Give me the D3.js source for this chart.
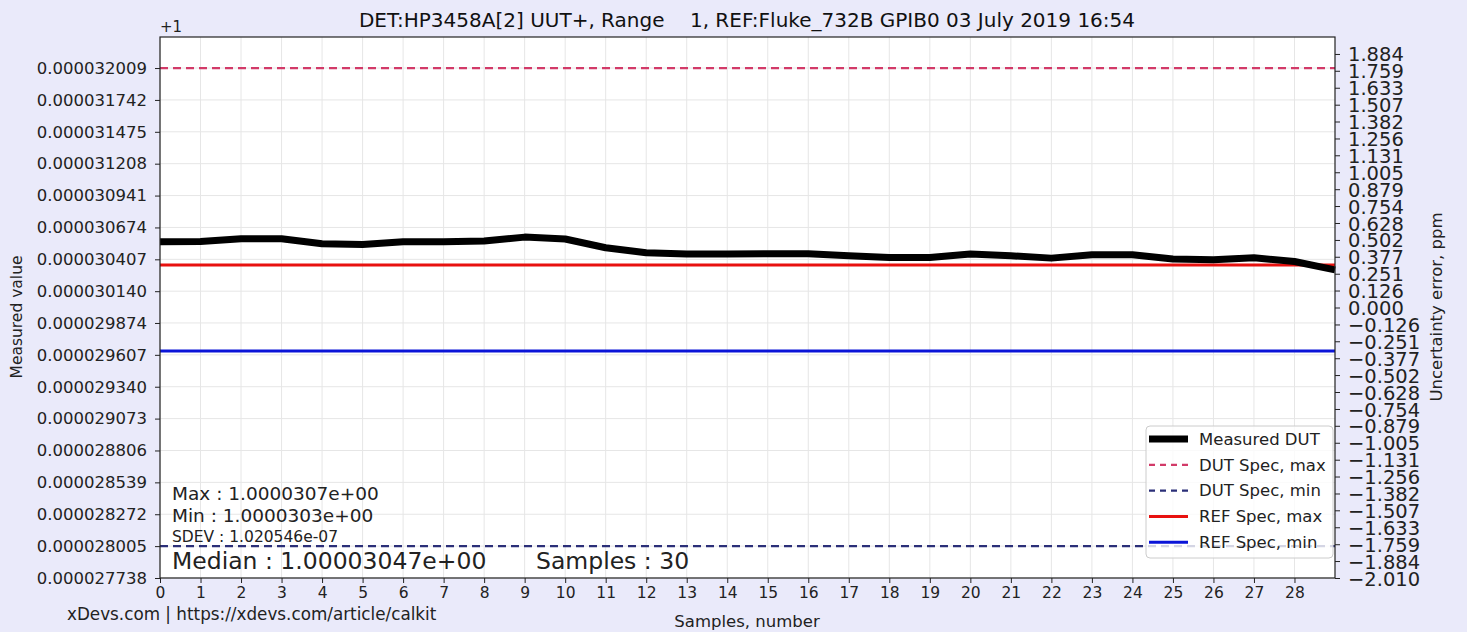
<!DOCTYPE html>
<html>
<head>
<meta charset="utf-8">
<script src="https://cdn.jsdelivr.net/npm/d3@7"></script>
<style>
  body { margin: 0; background: #eaeafa; }
  svg { font-family: "DejaVu Sans", sans-serif; }
  text { white-space: pre; }
</style>
</head>
<body>
<div id="chart"></div>
<script>
// Calibration run: measured value vs sample number (values in 1e-9 above +1)

const samples = d3.range(0, 30);
const measured = [30554, 30557, 30579, 30579, 30537, 30531, 30554, 30554, 30560, 30593,
                  30577, 30504, 30462, 30451, 30451, 30453, 30453, 30437, 30422, 30422,
                  30451, 30437, 30417, 30445, 30445, 30409, 30403, 30420, 30389, 30319];
const dutSpecMax = 32009;
const dutSpecMin = 28005;
const refSpecMax = 30360;
const refSpecMin = 29640;

const leftTicks = [27738, 28005, 28272, 28539, 28806, 29073, 29340, 29607, 29874,
                   30140, 30407, 30674, 30941, 31208, 31475, 31742, 32009];
const rightTicks = [-2.010, -1.884, -1.759, -1.633, -1.507, -1.382, -1.256, -1.131, -1.005,
                    -0.879, -0.754, -0.628, -0.502, -0.377, -0.251, -0.126, 0.000, 0.126,
                    0.251, 0.377, 0.502, 0.628, 0.754, 0.879, 1.005, 1.131, 1.256, 1.382,
                    1.507, 1.633, 1.759, 1.884];
const xTicks = d3.range(0, 29);

const width = 1467, height = 632;
const margin = {left: 160, right: 132, top: 37, bottom: 54};

const svg = d3.select("#chart").append("svg")
    .attr("width", width)
    .attr("height", height);

const x = d3.scaleLinear().domain([0, 29]).range([margin.left, width - margin.right]);
const y = d3.scaleLinear().domain([27738, 32269]).range([height - margin.bottom, margin.top]);
const yR = d3.scaleLinear().domain([-2.010, 2.010]).range([height - margin.bottom, margin.top]);

svg.append("rect")
    .attr("x", x(0)).attr("y", margin.top)
    .attr("width", x(29) - x(0)).attr("height", height - margin.bottom - margin.top)
    .attr("fill", "#fff");

// grid
svg.append("g").selectAll("line")
    .data(xTicks).enter().append("line")
    .attr("x1", d => x(d)).attr("x2", d => x(d))
    .attr("y1", margin.top).attr("y2", height - margin.bottom)
    .attr("stroke", "#e6e6e6").attr("stroke-width", 1);
svg.append("g").selectAll("line")
    .data(leftTicks).enter().append("line")
    .attr("x1", x(0)).attr("x2", x(29))
    .attr("y1", d => y(d)).attr("y2", d => y(d))
    .attr("stroke", "#e6e6e6").attr("stroke-width", 1);

const hline = (v, color, dash) => svg.append("line")
    .attr("x1", x(0)).attr("x2", x(29))
    .attr("y1", y(v)).attr("y2", y(v))
    .attr("stroke", color).attr("stroke-width", 2.2)
    .attr("stroke-dasharray", dash);

hline(dutSpecMax, "#d23a68", "8,5");
hline(dutSpecMin, "#2b2f78", "8,5");
hline(refSpecMax, "#e8110f", null).attr("stroke-width", 3);
hline(refSpecMin, "#0a14d8", null).attr("stroke-width", 3);

const line = d3.line()
    .x((d, i) => x(samples[i]))
    .y(d => y(d));

svg.append("path")
    .datum(measured)
    .attr("d", line)
    .attr("fill", "none")
    .attr("stroke", "#000")
    .attr("stroke-width", 7)
    .attr("stroke-linejoin", "round");

// axes
const xAxis = svg.append("g")
    .attr("transform", `translate(0,${height - margin.bottom})`)
    .call(d3.axisBottom(x).tickValues(xTicks).tickSize(5).tickPadding(4));
const yAxis = svg.append("g")
    .attr("transform", `translate(${margin.left},0)`)
    .call(d3.axisLeft(y).tickValues(leftTicks).tickSize(5).tickPadding(8)
        .tickFormat(d => "0.0000" + d));
const yAxisR = svg.append("g")
    .attr("transform", `translate(${width - margin.right},0)`)
    .call(d3.axisRight(yR).tickValues(rightTicks).tickSize(5).tickPadding(8)
        .tickFormat(d3.format(".3f")));

[xAxis, yAxis, yAxisR].forEach(g => {
    g.select(".domain").remove();
    g.selectAll("line").attr("stroke", "#222");
    g.selectAll("text").attr("fill", "#222").attr("font-family", "DejaVu Sans");
});
xAxis.selectAll("text").attr("font-size", 15.5);
yAxis.selectAll("text").attr("font-size", 16.5);
yAxisR.selectAll("text").attr("font-size", 19.5).attr("dy", "0.36em");

// frame
svg.append("rect")
    .attr("x", x(0)).attr("y", margin.top)
    .attr("width", x(29) - x(0)).attr("height", height - margin.bottom - margin.top)
    .attr("fill", "none").attr("stroke", "#222").attr("stroke-width", 1.2);

// texts
svg.append("text").attr("x", 160).attr("y", 32).attr("font-size", 15).attr("fill", "#222").text("+1");
svg.append("text").attr("x", 747).attr("y", 27).attr("text-anchor", "middle")
    .attr("font-size", 20).attr("fill", "#111")
    .text("DET:HP3458A[2] UUT+, Range    1, REF:Fluke_732B GPIB0 03 July 2019 16:54");
svg.append("text").attr("transform", "translate(22,317) rotate(-90)")
    .attr("text-anchor", "middle").attr("font-size", 15.5).attr("fill", "#222")
    .text("Measured value");
svg.append("text").attr("transform", "translate(1442,307) rotate(-90)")
    .attr("text-anchor", "middle").attr("font-size", 16.5).attr("fill", "#222")
    .text("Uncertainty error, ppm");
svg.append("text").attr("x", 747).attr("y", 627).attr("text-anchor", "middle")
    .attr("font-size", 16.5).attr("fill", "#222").text("Samples, number");
svg.append("text").attr("x", 67).attr("y", 620).attr("font-size", 16.8).attr("fill", "#222")
    .text("xDevs.com | https://xdevs.com/article/calkit");

const stats = [
    {t: "Max : 1.0000307e+00", x: 172, y: 500, s: 18.5},
    {t: "Min : 1.0000303e+00", x: 172, y: 522, s: 18.5},
    {t: "SDEV : 1.020546e-07", x: 172, y: 542, s: 15.5},
    {t: "Median : 1.00003047e+00", x: 172, y: 569, s: 23.5},
    {t: "Samples : 30", x: 536, y: 569, s: 23.5}
];
svg.append("g").selectAll("text")
    .data(stats).enter().append("text")
    .attr("x", d => d.x).attr("y", d => d.y)
    .attr("font-size", d => d.s).attr("fill", "#222")
    .text(d => d.t);

// legend
const legendItems = [
    {name: "Measured DUT", color: "#000", w: 7, dash: null},
    {name: "DUT Spec, max", color: "#d23a68", w: 2.2, dash: "6,5"},
    {name: "DUT Spec, min", color: "#2b2f78", w: 2.2, dash: "6,5"},
    {name: "REF Spec, max", color: "#e8110f", w: 3, dash: null},
    {name: "REF Spec, min", color: "#0a14d8", w: 3, dash: null}
];
const legend = svg.append("g").attr("transform", "translate(1146,426)");
legend.append("rect")
    .attr("width", 187).attr("height", 132).attr("rx", 4)
    .attr("fill", "#fff").attr("fill-opacity", 0.8)
    .attr("stroke", "#ccc");
const li = legend.selectAll("g.item")
    .data(legendItems).enter().append("g")
    .attr("transform", (d, i) => `translate(0,${13 + i * 25.8})`);
li.append("line")
    .attr("x1", 3).attr("x2", 42)
    .attr("stroke", d => d.color).attr("stroke-width", d => d.w)
    .attr("stroke-dasharray", d => d.dash);
li.append("text")
    .attr("x", 53).attr("dy", "0.35em")
    .attr("font-size", 16.5).attr("fill", "#222")
    .text(d => d.name);
</script>
</body>
</html>
